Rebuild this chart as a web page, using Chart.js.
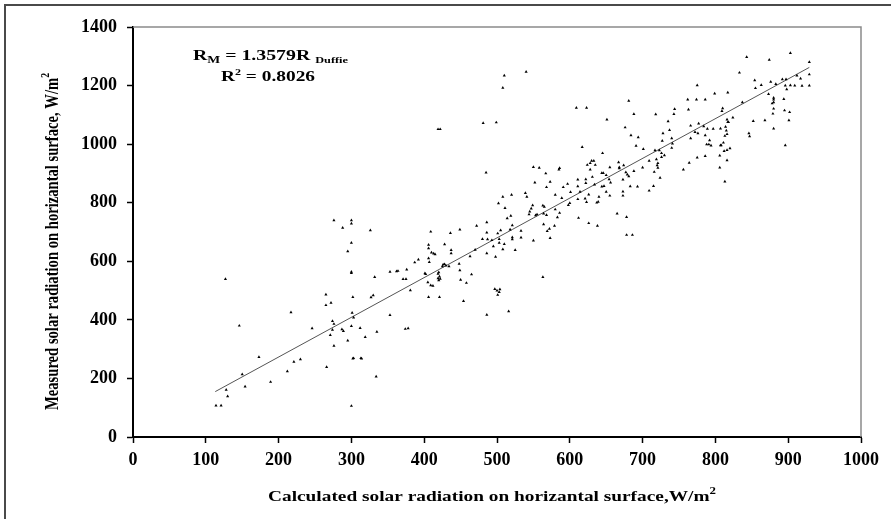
<!DOCTYPE html>
<html>
<head>
<meta charset="utf-8">
<script src="https://cdn.jsdelivr.net/npm/chart.js@4"></script>
<style>
  html, body { margin: 0; padding: 0; background: #fff; }
  #wrap { width: 891px; height: 519px; }
</style>
</head>
<body>
<div id="wrap"><canvas id="chart" width="891" height="519"></canvas></div>
<script>
// calculated (Duffie) radiation, W/m2
const calcX = [
    276,300,300,288,300,295,300,300,127,265,
    302,272,265,217,301,303,274,276,146,300,
    246,274,287,289,271,295,276,173,302,230,
    221,266,212,150,189,154,128,130,114,121,
    300,335,334,332,312,319,314,353,362,353,
    371,375,376,374,378,381,387,392,401,405,
    406,406,410,409,419,419,421,425,428,
    419,422,481,499,485,502,326,409,449,436,
    472,486,486,501,503,487,480,493,495,503,
    406,406,428,413,415,437,437,470,486,463,
    498,407,426,430,434,448,449,402,420,421,
    422,420,465,364,412,450,458,497,500,503,
    501,327,330,454,486,303,313,
    510,540,508,609,623,681,688,651,676,684,
    694,691,701,617,645,630,633,628,624,635,
    628,585,586,550,558,567,573,552,597,611,
    611,622,622,631,644,646,655,667,668,674,
    668,650,654,656,673,677,679,681,688,700,
    683,693,568,591,580,589,601,614,626,634,
    644,647,650,655,673,673,621,623,640,637,
    639,600,598,611,665,678,612,626,638,678,
    686,580,586,563,565,553,555,564,568,549,
    547,545,544,539,541,520,508,511,519,514,
    521,518,533,533,521,521,550,564,569,572,
    579,573,583,505,510,508,525,563,504,516,
    843,874,903,929,929,929,833,917,912,909,
    903,898,896,897,892,919,854,855,863,876,
    883,873,894,880,880,878,880,880,879,880,
    895,902,901,896,868,852,846,847,837,817,
    799,775,762,774,786,763,744,743,718,735,
    728,727,737,740,741,740,717,723,719,721,
    720,721,726,726,730,716,724,715,709,709,
    756,764,775,786,766,766,772,776,777,784,
    789,797,807,786,792,788,791,794,807,808,
    806,806,811,813,814,815,816,817,818,824,
    810,809,816,812,816,820,816,813
];

// measured radiation, W/m2 (same order as calcX)
const measY = [
    740,740,729,714,663,634,564,560,539,486,
    478,458,450,426,424,408,396,386,380,379,
    371,366,368,362,348,329,311,273,268,265,
    257,239,224,214,188,172,161,139,107,107,
    106,359,206,546,372,341,268,564,566,416,
    539,539,572,369,371,501,596,606,559,528,
    610,478,630,518,542,557,478,583,590,
    1051,1051,1072,1074,903,798,706,701,708,696,
    721,733,698,695,676,675,676,672,651,663,
    656,644,658,626,624,638,627,639,627,617,
    615,597,589,585,583,591,569,556,562,548,
    540,535,555,567,516,537,526,505,500,495,
    485,477,484,464,417,269,269,
    1234,1247,1192,1124,1124,1148,1103,1084,1057,1030,
    1023,994,983,990,969,943,943,935,929,929,
    913,913,918,922,919,900,871,869,864,879,
    856,880,867,888,901,901,921,938,921,928,
    917,894,880,869,879,904,896,890,908,920,
    856,855,853,853,827,816,836,837,828,862,
    855,857,837,824,838,824,814,802,820,800,
    803,799,792,812,763,751,748,730,721,690,
    690,777,765,790,786,757,760,763,758,791,
    780,770,760,833,820,827,820,782,755,747,
    723,708,704,681,682,675,671,726,703,711,
    721,679,750,706,659,641,638,546,504,429,
    1297,1288,1311,1280,1238,1200,1244,1224,1234,1200,
    1201,1187,1200,1221,1221,1199,1218,1191,1202,1213,
    1205,1171,1154,1158,1152,1139,1143,1121,1104,1053,
    1115,1109,1081,996,1081,1079,1037,1027,1143,1176,
    1173,1201,1152,1152,1152,1118,1120,1103,1102,1078,
    1037,1011,1048,1020,1002,987,979,979,948,935,
    928,919,956,969,962,905,885,857,841,943,
    913,936,954,959,1020,1063,1041,1037,1070,1061,
    1052,1052,1053,1030,1013,999,999,995,996,996,
    961,920,1005,1028,1059,1046,1034,1075,1075,1091,
    1122,1113,1084,976,980,986,945,872
];

// fitted line end points as drawn
const trendX = [113, 929];
const trendY = [155, 1262];

const xTicks = [0, 100, 200, 300, 400, 500, 600, 700, 800, 900, 1000];
const yTicks = [0, 200, 400, 600, 800, 1000, 1200, 1400];

const serif = '"Liberation Serif", "Times New Roman", serif';

function runsWidth(ctx, runs) {
    let w = 0;
    runs.forEach(r => {
        ctx.font = 'bold ' + r.size + 'px ' + serif;
        w += ctx.measureText(r.t).width;
    });
    return w;
}

// draws text pieces (sub/superscripts) starting at x, stretched to span `width`
function drawRuns(ctx, x, y, runs, width, thick) {
    const w = runsWidth(ctx, runs);
    const k = width ? width / w : 1;
    ctx.save();
    ctx.translate(x, y);
    ctx.scale(k, thick || 1);
    let cx = 0;
    runs.forEach(r => {
        ctx.font = 'bold ' + r.size + 'px ' + serif;
        ctx.fillText(r.t, cx, r.dy || 0);
        cx += ctx.measureText(r.t).width;
    });
    ctx.restore();
}

const decorPlugin = {
    id: 'decor',
    beforeDraw(chart) {
        const ctx = chart.ctx;
        ctx.save();
        ctx.fillStyle = '#fff';
        ctx.fillRect(0, 0, chart.width, chart.height);
        // outer figure border (only top and left are visible)
        ctx.strokeStyle = '#4a4a4a';
        ctx.lineWidth = 2;
        ctx.beginPath();
        ctx.moveTo(5, chart.height);
        ctx.lineTo(5, 5);
        ctx.lineTo(chart.width, 5);
        ctx.stroke();
        ctx.restore();
    },
    afterDraw(chart) {
        const ctx = chart.ctx;
        const a = chart.chartArea;
        ctx.save();
        // grey frame on top and right of plot area
        ctx.strokeStyle = '#8a8a8a';
        ctx.lineWidth = 1.5;
        ctx.beginPath();
        ctx.moveTo(a.left, a.top);
        ctx.lineTo(a.right, a.top);
        ctx.lineTo(a.right, a.bottom);
        ctx.stroke();

        ctx.fillStyle = '#000';
        ctx.textBaseline = 'alphabetic';
        ctx.textAlign = 'left';

        // equation text
        drawRuns(ctx, 193, 59.5, [
            { t: 'R', size: 14.5 },
            { t: 'M', size: 10, dy: 3 },
            { t: ' = 1.3579R ', size: 14.5 },
            { t: 'Duffie', size: 9, dy: 3 }
        ], 155);
        drawRuns(ctx, 221, 81, [
            { t: 'R', size: 14.5 },
            { t: '2', size: 9, dy: -6 },
            { t: ' = 0.8026', size: 14.5 }
        ], 94);

        // x axis title
        drawRuns(ctx, 268, 501, [
            { t: 'Calculated solar radiation on horizantal surface,W/m', size: 15 },
            { t: '2', size: 10, dy: -7 }
        ], 448);

        // y axis title
        ctx.translate(58, 410);
        ctx.rotate(-Math.PI / 2);
        drawRuns(ctx, 0, 0, [
            { t: 'Measured solar radiation on horizantal surface, W/m', size: 15 },
            { t: '2', size: 10, dy: -7 }
        ], 337, 1.3);
        ctx.restore();
    }
};

const points = calcX.map((x, i) => ({ x: x, y: measY[i] }));
const trend = trendX.map((x, i) => ({ x: x, y: trendY[i] }));

const tickFont = { family: serif, size: 18, weight: 'bold' };

new Chart(document.getElementById('chart'), {
    type: 'scatter',
    data: {
        datasets: [
            {
                label: 'data',
                data: points,
                pointStyle: 'triangle',
                pointRadius: 1.8,
                pointBorderWidth: 0,
                backgroundColor: '#000',
                borderColor: '#000',
                order: 1
            },
            {
                type: 'line',
                label: 'fit',
                data: trend,
                borderColor: '#555',
                borderWidth: 1,
                pointRadius: 0,
                fill: false,
                order: 2
            }
        ]
    },
    options: {
        responsive: false,
        animation: false,
        layout: { padding: { left: 0, top: 27, right: 30, bottom: 0 } },
        plugins: {
            legend: { display: false },
            tooltip: { enabled: false }
        },
        scales: {
            x: {
                type: 'linear',
                min: 0,
                max: 1000,
                afterBuildTicks(scale) { scale.ticks = xTicks.map(v => ({ value: v })); },
                afterFit(scale) { scale.height = 82; },
                grid: { drawOnChartArea: false, drawTicks: true, tickLength: 6, tickColor: '#000', tickWidth: 1.5 },
                border: { color: '#000', width: 2 },
                ticks: {
                    color: '#000',
                    padding: 7,
                    maxRotation: 0,
                    font: tickFont,
                    callback: v => String(v)
                }
            },
            y: {
                type: 'linear',
                min: 0,
                max: 1400,
                afterBuildTicks(scale) { scale.ticks = yTicks.map(v => ({ value: v })); },
                afterFit(scale) { scale.width = 133; },
                grid: { drawOnChartArea: false, drawTicks: true, tickLength: 6, tickColor: '#000', tickWidth: 1.5 },
                border: { color: '#000', width: 2 },
                ticks: {
                    color: '#000',
                    padding: 10,
                    font: tickFont,
                    callback: v => String(v)
                }
            }
        }
    },
    plugins: [decorPlugin]
});
</script>
</body>
</html>
